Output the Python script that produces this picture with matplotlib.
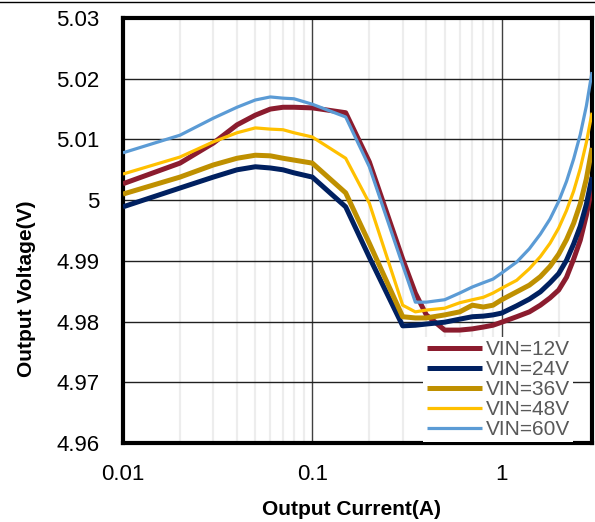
import numpy as np
import matplotlib.pyplot as plt
from matplotlib.lines import Line2D
from matplotlib.ticker import FixedLocator, NullFormatter

plt.rcParams['font.family'] = ['Liberation Sans', 'DejaVu Sans']

current = [0.01, 0.02, 0.03, 0.04, 0.05, 0.06, 0.07, 0.08, 0.1, 0.15, 0.2, 0.3, 0.35,
           0.4, 0.5, 0.6, 0.7, 0.8, 0.9, 1.0, 1.2, 1.4, 1.6, 1.8, 2.0, 2.2, 2.4, 2.6,
           2.8, 3.0]

vin12 = [5.0027, 5.0061, 5.0094, 5.0124, 5.0140, 5.0150, 5.0153, 5.0153, 5.0152, 5.0144,
         5.0063, 4.9903, 4.9847, 4.9811, 4.9786, 4.9786, 4.9788, 4.9791, 4.9794, 4.9799,
         4.9808, 4.9816, 4.9827, 4.9839, 4.9852, 4.9873, 4.9903, 4.9934, 4.9975, 5.0022]
vin24 = [4.9989, 5.0020, 5.0038, 5.0050, 5.0055, 5.0053, 5.0050, 5.0045, 5.0038, 4.9989,
         4.9906, 4.9793, 4.9794, 4.9796, 4.9799, 4.9804, 4.9808, 4.9809, 4.9811, 4.9814,
         4.9826, 4.9837, 4.9849, 4.9864, 4.9879, 4.9901, 4.9928, 4.9957, 4.9993, 5.0038]
vin36 = [5.0010, 5.0038, 5.0058, 5.0069, 5.0074, 5.0073, 5.0069, 5.0066, 5.0061, 5.0012,
         4.9929, 4.9808, 4.9806, 4.9806, 4.9811, 4.9816, 4.9827, 4.9824, 4.9827, 4.9836,
         4.9849, 4.9860, 4.9874, 4.9891, 4.9911, 4.9935, 4.9962, 4.9994, 5.0035, 5.0086]
vin48 = [5.0043, 5.0071, 5.0096, 5.0111, 5.0119, 5.0117, 5.0116, 5.0111, 5.0104, 5.0069,
         4.9995, 4.9827, 4.9816, 4.9819, 4.9822, 4.9831, 4.9836, 4.9840, 4.9847, 4.9855,
         4.9868, 4.9887, 4.9907, 4.9929, 4.9954, 4.9983, 5.0015, 5.0052, 5.0095, 5.0144]
vin60 = [5.0078, 5.0107, 5.0135, 5.0153, 5.0165, 5.0170, 5.0168, 5.0167, 5.0158, 5.0137,
         5.0055, 4.9893, 4.9832, 4.9832, 4.9836, 4.9847, 4.9857, 4.9864, 4.9870, 4.9880,
         4.9898, 4.9920, 4.9944, 4.9969, 4.9998, 5.0031, 5.0068, 5.0108, 5.0155, 5.0211]

labels = ['VIN=12V', 'VIN=24V', 'VIN=36V', 'VIN=48V', 'VIN=60V']
colors = ['#8B1C2E', '#002060', '#BF9000', '#FFC000', '#5B9BD5']
widths = [3.6, 3.6, 3.6, 2.3, 2.3]

y_ticks = [4.96, 4.97, 4.98, 4.99, 5.00, 5.01, 5.02, 5.03]
y_ticklabels = ['4.96', '4.97', '4.98', '4.99', '5', '5.01', '5.02', '5.03']
x_ticks = [0.01, 0.1, 1]
x_ticklabels = ['0.01', '0.1', '1']

fig = plt.figure(figsize=(5.95, 5.22), dpi=100)
ax = fig.add_axes([0.2067, 0.1513, 0.7883, 0.8142])

series = [vin12, vin24, vin36, vin48, vin60]
for vals, lab, c, w in zip(series, labels, colors, widths):
    ax.plot(current, vals, color=c, lw=w, label=lab, solid_capstyle='butt',
            solid_joinstyle='round', zorder=3)

ax.set_xscale('log')
ax.set_xlim(0.01, 3.0)
ax.set_ylim(4.96, 5.03)

ax.xaxis.set_major_locator(FixedLocator(x_ticks))
ax.set_xticklabels(x_ticklabels)
minor = [m * d for d in (0.01, 0.1, 1) for m in range(2, 10) if m * d < 3.0]
ax.xaxis.set_minor_locator(FixedLocator(minor))
ax.xaxis.set_minor_formatter(NullFormatter())
ax.set_yticks(y_ticks)
ax.set_yticklabels(y_ticklabels)

ax.grid(which='minor', axis='x', color='#EDEDED', lw=1.6, zorder=0)
ax.grid(which='major', axis='x', color='#404040', lw=1.0, zorder=1)
ax.grid(which='major', axis='y', color='#202020', lw=1.0, zorder=1)
ax.set_axisbelow(True)

ax.tick_params(which='both', length=0)
ax.tick_params(axis='y', labelsize=16, pad=17)
ax.tick_params(axis='x', labelsize=16, pad=15)

for s in ax.spines.values():
    s.set_linewidth(3.0)
    s.set_color('black')

ax.set_xlabel('Output Current(A)', fontsize=15, fontweight='bold')
ax.set_ylabel('Output Voltage(V)', fontsize=15, fontweight='bold')
ax.xaxis.set_label_coords(0.488, -0.135)
ax.yaxis.set_label_coords(-0.185, 0.362)

leg = ax.legend(loc='lower right', frameon=True, fontsize=15, handlelength=2.65,
                handletextpad=0.2, labelspacing=0.05, borderpad=0.15,
                borderaxespad=0.0, bbox_to_anchor=(0.96, 0.002))
leg.get_frame().set_facecolor('white')
leg.get_frame().set_edgecolor('none')
leg.get_frame().set_alpha(1.0)
leg.get_frame().set_boxstyle('square', pad=0)
for t in leg.get_texts():
    t.set_color('#595959')

fig.add_artist(Line2D([0, 1], [0.997, 0.997], color='black', lw=1.0,
                      transform=fig.transFigure))

fig.savefig('out.png', dpi=100)
